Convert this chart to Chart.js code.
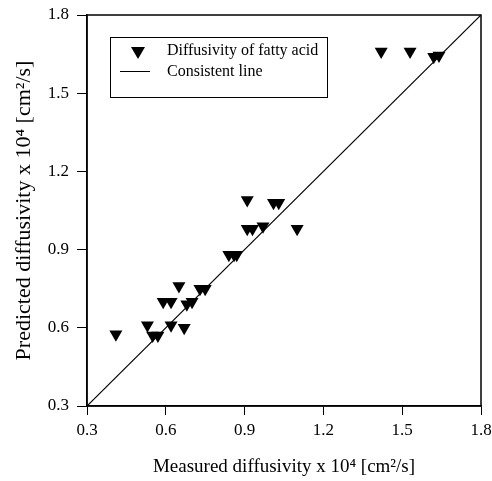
<!DOCTYPE html>
<html>
<head>
<meta charset="utf-8">
<script src="https://cdn.jsdelivr.net/npm/chart.js@4"></script>
<style>
  html, body { margin: 0; padding: 0; background: #fff; }
  #wrap { width: 492px; height: 481px; }
</style>
</head>
<body>
<div id="wrap"><canvas id="diffChart"></canvas></div>
<script>
// measured vs predicted diffusivity (x 10^4 cm2/s)
const measured = [0.41, 0.53, 0.55, 0.57, 0.62, 0.67, 0.65, 0.59, 0.62, 0.68, 0.70, 0.73, 0.75,
  0.84, 0.86, 0.87, 0.91, 1.01, 1.03, 0.91, 0.93, 0.97, 1.10, 1.42, 1.53, 1.62, 1.64];
const predicted = [0.575, 0.61, 0.57, 0.57, 0.61, 0.60, 0.76, 0.70, 0.70, 0.69, 0.70, 0.75, 0.75,
  0.88, 0.88, 0.88, 1.09, 1.08, 1.08, 0.98, 0.98, 0.99, 0.98, 1.66, 1.66, 1.64, 1.645];
const lineX = [0.3, 1.8];
const lineY = [0.3, 1.8];
const tickVals = [0.3, 0.6, 0.9, 1.2, 1.5, 1.8];
const seriesLabels = ['Diffusivity of fatty acid', 'Consistent line'];

const serif = 'Liberation Serif, Times New Roman, serif';

// frame + legend box inside the plot
const framePlugin = {
  id: 'frame',
  afterDraw(chart) {
    const { ctx, chartArea: a } = chart;
    ctx.save();
    ctx.strokeStyle = '#000';
    ctx.lineWidth = 1.5;
    ctx.strokeRect(a.left, a.top, a.right - a.left, a.bottom - a.top);

    // legend
    const bx = 110, by = 37, bw = 217, bh = 60;
    ctx.lineWidth = 1;
    ctx.strokeRect(bx + 0.5, by + 0.5, bw, bh);
    ctx.fillStyle = '#000';
    ctx.beginPath();
    ctx.moveTo(bx + 21, by + 10);
    ctx.lineTo(bx + 35, by + 10);
    ctx.lineTo(bx + 28, by + 22);
    ctx.closePath();
    ctx.fill();
    ctx.beginPath();
    ctx.moveTo(bx + 10, by + 34.5);
    ctx.lineTo(bx + 40, by + 34.5);
    ctx.stroke();
    ctx.font = '16px ' + serif;
    ctx.textBaseline = 'middle';
    ctx.fillText(chart.data.datasets[0].label, bx + 57, by + 14);
    ctx.fillText(chart.data.datasets[1].label, bx + 57, by + 35);
    ctx.restore();
  }
};

new Chart(document.getElementById('diffChart'), {
  type: 'scatter',
  data: {
    datasets: [
      {
        label: seriesLabels[0],
        data: measured.map((x, i) => ({ x: x, y: predicted[i] })),
        pointStyle: 'triangle',
        rotation: 180,
        pointRadius: 7.5,
        backgroundColor: '#000',
        borderColor: '#000',
        borderWidth: 0
      },
      {
        label: seriesLabels[1],
        type: 'line',
        data: lineX.map((x, i) => ({ x: x, y: lineY[i] })),
        borderColor: '#000',
        borderWidth: 1.2,
        pointRadius: 0,
        fill: false
      }
    ]
  },
  options: {
    responsive: true,
    maintainAspectRatio: false,
    animation: false,
    layout: { padding: { left: 0, right: 11, top: 15, bottom: 0 } },
    plugins: {
      legend: { display: false },
      tooltip: { enabled: false }
    },
    scales: {
      x: {
        type: 'linear',
        min: 0.3, max: 1.8,
        afterBuildTicks: s => { s.ticks = tickVals.map(v => ({ value: v })); },
        afterFit: s => { s.height = 75; s.paddingLeft = 0; s.paddingRight = 0; },
        grid: { drawOnChartArea: false, tickLength: 9, color: '#000', lineWidth: 1 },
        border: { color: '#000', width: 1.5 },
        ticks: {
          color: '#000', padding: 5,
          font: { family: serif, size: 17 },
          callback: v => v.toFixed(1)
        },
        title: {
          display: true,
          text: 'Measured diffusivity x 10\u2074 [cm\u00b2/s]',
          color: '#000',
          font: { family: serif, size: 19 },
          padding: { top: 0, bottom: 3 }
        }
      },
      y: {
        type: 'linear',
        min: 0.3, max: 1.8,
        afterBuildTicks: s => { s.ticks = tickVals.map(v => ({ value: v })); },
        afterFit: s => { s.width = 87; s.paddingTop = 0; s.paddingBottom = 0; },
        grid: { drawOnChartArea: false, tickLength: 10, color: '#000', lineWidth: 1 },
        border: { color: '#000', width: 1.5 },
        ticks: {
          color: '#000', padding: 8,
          font: { family: serif, size: 17 },
          callback: v => v.toFixed(1)
        },
        title: {
          display: true,
          text: 'Predicted diffusivity x 10\u2074 [cm\u00b2/s]',
          color: '#000',
          font: { family: serif, size: 22 },
          padding: { top: 11, bottom: 0 }
        }
      }
    }
  },
  plugins: [framePlugin]
});
</script>
</body>
</html>
